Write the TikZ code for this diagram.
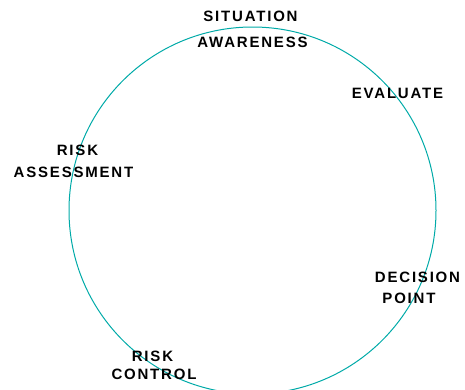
\documentclass[tikz,border=0pt]{standalone}
\usepackage{fontspec}
\usepackage{xcolor}
\usepackage{tikz}
\usetikzlibrary{positioning,calc}
\newfontfamily\labfont[LetterSpace=12]{Liberation Sans}
\definecolor{cycleteal}{RGB}{0,170,168}
\tikzset{
  steplabel/.style={inner sep=0pt,font=\labfont\bfseries\fontsize{15}{17}\selectfont},
  cycleline/.style={cycleteal,line width=1pt}
}

\begin{document}
\begin{tikzpicture}[x=1pt,y=-1pt]
\useasboundingbox (0,0) rectangle (465,389);

% Cycle
\coordinate (c) at (252.5,210.5);
\draw[cycleline] (c) circle (183.5);

% Labels (one node per line)
\foreach \x/\y/\name/\txt in {250.5/16/sitA/SITUATION, 252.5/42/sitB/AWARENESS,
    397.5/93/evalA/EVALUATE,
    77.5/150/assA/RISK, 73.5/172/assB/ASSESSMENT,
    417.5/277/decA/DECISION, 409/298/decB/POINT,
    152.5/356/ctlA/RISK, 154/374/ctlB/CONTROL}
    \node[steplabel] (\name) at (\x,\y) {\txt};
\end{tikzpicture}
\end{document}
